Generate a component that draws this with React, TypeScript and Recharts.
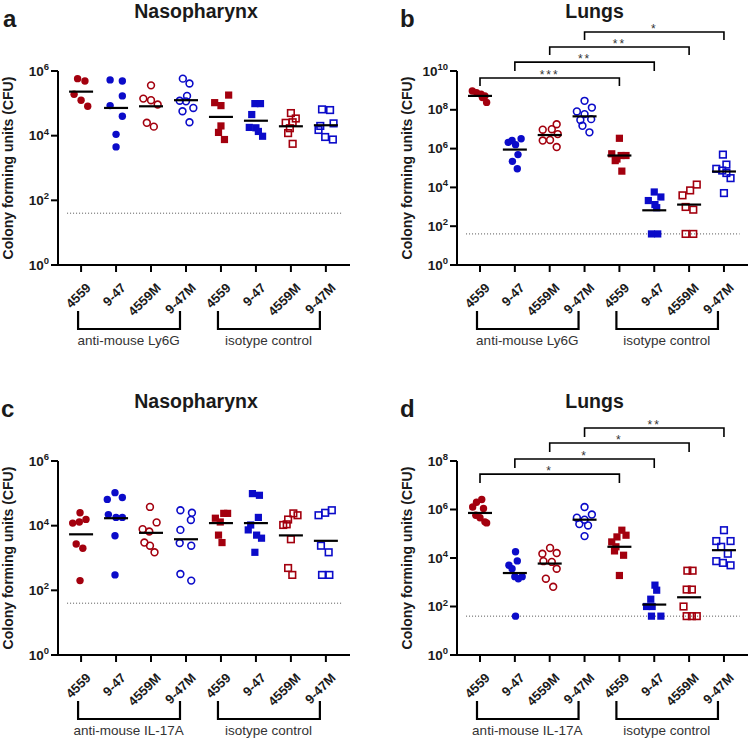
import React from 'react'
import { ScatterChart, Scatter, XAxis, YAxis, ReferenceLine, ReferenceArea } from 'recharts'

const strains = ['4559', '9-47', '4559M', '9-47M', '4559', '9-47', '4559M', '9-47M']
const LOD = 40

// a: nasopharynx, anti-Ly6G vs isotype (CFU per mouse)
const nasoLy6G = [
  [5.8e5, 4.9e5, 1.9e5, 1.25e5, 8.1e4],
  [5.3e5, 4.9e5, 1.7e5, 8.5e4, 4e4, 1.1e4, 4.5e3],
  [3.6e5, 1.4e5, 1.25e5, 9.2e4, 2.5e4, 1.9e4],
  [5.8e5, 4.1e5, 1.7e5, 1.2e5, 1.15e5, 7.2e4, 5.7e4, 2.6e4],
  [1.8e5, 1.05e5, 8.5e4, 2.0e4, 1.26e4, 7.6e3],
  [9.8e4, 9.8e4, 4.5e4, 1.8e4, 1.75e4, 1.35e4, 9.6e3],
  [5e4, 3.4e4, 2.6e4, 2.5e4, 1.7e4, 1.2e4, 5.6e3],
  [6.5e4, 6.2e4, 2.4e4, 2e4, 1.5e4, 9.1e3, 7.6e3],
]
const nasoLy6GMean = [2.3e5, 7.2e4, 8.1e4, 1.25e5, 3.8e4, 2.9e4, 1.95e4, 2.1e4]

// b: lungs, anti-Ly6G vs isotype
const lungsLy6G = [
  [9.3e8, 7.7e8, 6.4e8, 5.2e8, 4.3e8, 2.4e8],
  [3.2e6, 2.6e6, 2.1e6, 1.6e6, 4.9e5, 2.2e5, 9.1e4],
  [1.8e7, 1e7, 9.4e6, 5.6e6, 2.8e6, 2.6e6, 1.2e6],
  [2.9e8, 1.3e8, 8.2e7, 6e7, 3.3e7, 3e7, 1.5e7, 6.9e6],
  [3.4e6, 5.4e5, 4.4e5, 4.4e5, 2.9e5, 2.4e5, 6.9e4],
  [5.8e3, 3.2e3, 2.1e3, 1.3e3, 9e2, 40, 40],
  [1.4e4, 7e3, 3.9e3, 9.8e2, 7.1e2, 40, 40],
  [4.9e5, 1.5e5, 9.1e4, 7.4e4, 5.5e4, 3e4, 5.1e3],
]
const lungsLy6GMean = [5.2e8, 8.9e5, 5e6, 4.6e7, 4.4e5, 6.6e2, 1.3e3, 6.6e4]
const lungsLy6GStars = ['***', '**', '**', '*']

// c: nasopharynx, anti-IL-17A vs isotype
const nasoIL17 = [
  [2.5e4, 1.56e4, 1.3e4, 1.2e4, 2.7e3, 2e3, 2e2],
  [1.05e5, 7.4e4, 6.5e4, 2.2e4, 1.8e4, 1.8e4, 4.9e3, 3e2],
  [3.8e4, 1.26e4, 7.8e3, 6.6e3, 3e3, 2.4e3, 1.5e3],
  [3e4, 2.5e4, 1.5e4, 7.4e3, 2.9e3, 2.4e3, 3.2e2, 2e2],
  [2.4e4, 2.4e4, 1.7e4, 1.3e4, 5.1e3, 3e3],
  [9.8e4, 8.7e4, 1.8e4, 1.05e4, 7.4e3, 5.1e3, 4.1e3, 1.5e3],
  [2.4e4, 2.1e4, 1.55e4, 1.1e4, 1.05e4, 3.8e3, 4.9e2, 3e2],
  [3e4, 2.5e4, 2.1e4, 2.4e3, 1.5e3, 3e2, 3e2],
]
const nasoIL17Mean = [5.4e3, 1.7e4, 6e3, 3.8e3, 1.2e4, 1.2e4, 5e3, 3.4e3]

// d: lungs, anti-IL-17A vs isotype
const lungsIL17 = [
  [2.6e6, 2e6, 1.26e6, 1.1e6, 5.8e5, 4.6e5, 3.1e5, 2.8e5],
  [1.8e4, 7.6e3, 5e3, 3.6e3, 1.7e3, 1.7e3, 1.4e3, 40],
  [2.6e4, 1.6e4, 1.5e4, 7.4e3, 6.9e3, 3.6e3, 1.4e3, 6.5e2],
  [1.26e6, 6.2e5, 4.6e5, 3.8e5, 2.5e5, 2.2e5, 8e4],
  [1.4e5, 8.7e4, 7.4e4, 4.6e4, 2.9e4, 1.96e4, 1.3e4, 1.9e3],
  [7.6e2, 4.7e2, 2e2, 1e2, 1e2, 40, 40],
  [3e3, 3e3, 5e2, 5e2, 1e2, 40, 40, 40],
  [1.4e5, 5e4, 5e4, 2.9e4, 1.5e4, 7.4e3, 6.3e3, 5e3],
]
const lungsIL17Mean = [7.2e5, 2.4e3, 5.9e3, 3.8e5, 2.9e4, 1.2e2, 2.4e2, 2.1e4]
const lungsIL17Stars = ['*', '*', '*', '**']

// horizontal scatter of each dot inside its column (category units)
const nasoLy6GSpread = [
  [-0.1, 0.11, -0.2, 0, 0.19],
  [-0.17, 0.18, 0.18, -0.17, 0.18, 0, 0],
  [0, -0.22, 0, 0.19, -0.12, 0.08],
  [-0.09, 0.1, 0.03, -0.18, 0, 0.21, -0.1, 0.1],
  [0.22, -0.18, 0, 0, -0.07, 0.1],
  [-0.03, 0.13, -0.12, -0.19, 0, 0.07, 0.19],
  [0, 0.14, 0.05, -0.15, -0.03, -0.08, 0.05],
  [-0.11, 0.12, 0.22, -0.16, -0.21, -0.02, 0.2],
]
const lungsLy6GSpread = [
  [-0.22, -0.1, 0.03, 0.14, 0.07, 0.19],
  [0.18, -0.08, -0.19, 0.02, 0.09, -0.07, 0.07],
  [0.2, 0.06, -0.2, 0.23, 0.01, -0.2, 0.2],
  [0, 0.21, -0.22, 0, 0.19, -0.12, -0.06, 0.14],
  [0, -0.22, 0.05, 0.19, -0.07, -0.12, 0.07],
  [0, 0.19, -0.17, 0.02, 0.07, -0.08, 0.1],
  [0.22, 0.03, -0.19, -0.1, 0.12, -0.1, 0.12],
  [-0.03, 0.07, -0.22, -0.05, 0.07, 0.19, 0],
]
const nasoIL17Spread = [
  [-0.03, 0.14, -0.05, -0.24, -0.14, 0.05, -0.03],
  [-0.03, 0.18, -0.25, -0.22, 0, 0.18, -0.03, -0.03],
  [-0.03, 0.16, -0.24, -0.05, -0.19, -0.03, 0.1],
  [-0.16, 0.17, 0.14, -0.16, -0.18, 0.15, -0.16, 0.15],
  [0.08, 0.19, -0.16, -0.02, -0.07, 0.03],
  [-0.1, 0.1, 0.07, -0.15, -0.22, 0.02, 0.16, -0.03],
  [0.07, 0.19, -0.08, -0.12, -0.22, 0, -0.08, 0.04],
  [0.17, -0.02, -0.21, -0.14, 0.08, -0.11, 0.1],
]
const lungsIL17Spread = [
  [0.05, -0.1, -0.21, 0.1, -0.12, 0, 0.14, 0.19],
  [0.02, 0.07, -0.17, -0.08, 0, 0.21, 0.1, 0.02],
  [0.01, 0.2, -0.21, -0.18, 0.06, 0.2, -0.11, 0.1],
  [0, 0.21, -0.22, 0, -0.15, 0.1, 0],
  [0.07, 0.19, -0.07, -0.22, -0.1, -0.14, 0.12, 0],
  [0.02, 0.07, -0.1, -0.22, -0.06, -0.08, 0.19],
  [-0.05, 0.1, -0.07, 0.08, -0.16, -0.07, 0.08, 0.22],
  [0, -0.22, 0.19, -0.08, 0.11, -0.22, -0.03, 0.19],
]

const pairs = [[1, 5], [2, 6], [3, 7], [4, 8]]

const RED = '#A3000E'
const BLUE = '#0B0BC9'
const INK = '#1a1a1a'
const FONT = 'Arial, "Liberation Sans", sans-serif'
const looks = [
  { color: RED, square: false, filled: true },
  { color: BLUE, square: false, filled: true },
  { color: RED, square: false, filled: false },
  { color: BLUE, square: false, filled: false },
  { color: RED, square: true, filled: true },
  { color: BLUE, square: true, filled: true },
  { color: RED, square: true, filled: false },
  { color: BLUE, square: true, filled: false },
]

const PLOT_TOP = 71
const PLOT_BOTTOM = 265
const X_DOMAIN: [number, number] = [0.34, 8.69]
const axisStyle = { stroke: '#000', strokeWidth: 2 }

const marker = (color: string, square: boolean, filled: boolean) => (p: any) => {
  const { cx, cy } = p
  if (square) {
    return filled
      ? <rect x={cx - 3.6} y={cy - 3.6} width={7.2} height={7.2} fill={color} />
      : <rect x={cx - 3.3} y={cy - 3.3} width={6.6} height={6.6} fill="none" stroke={color} strokeWidth={1.6} />
  }
  return filled
    ? <circle cx={cx} cy={cy} r={3.7} fill={color} />
    : <circle cx={cx} cy={cy} r={3.4} fill="none" stroke={color} strokeWidth={1.6} />
}

const MeanBar = (p: any) => (
  <line x1={p.cx - 12} x2={p.cx + 12} y1={p.cy} y2={p.cy} stroke="#000" strokeWidth={2.2} />
)

const StrainTick = (p: any) => {
  const { x, y, payload } = p
  return (
    <text
      transform={`translate(${x + 4},${y + 8}) rotate(-45)`}
      textAnchor="end"
      dy="0.72em"
      fontSize={13}
      fontWeight="bold"
      fontFamily={FONT}
      fill={INK}
    >
      {strains[payload.value - 1]}
    </text>
  )
}

const PowTick = (p: any) => {
  const { x, y, payload } = p
  const e = Math.round(Math.log10(payload.value))
  return (
    <text x={x} y={y + 4.5} textAnchor="end" fontSize={13.5} fontWeight="bold" fontFamily={FONT} fill={INK}>
      10<tspan dy={-5.5} fontSize={9.5}>{e}</tspan>
    </text>
  )
}

const sigShape = (label: string) => (p: any) => {
  const { x, y, width, height } = p
  return (
    <g>
      <path d={`M${x},${y + height}V${y}H${x + width}V${y + height}`} fill="none" stroke="#000" strokeWidth={1.6} />
      <text x={x + width / 2} y={y + 1} textAnchor="middle" fontSize={12} letterSpacing={2} fontFamily={FONT} fill="#333">
        {label}
      </text>
    </g>
  )
}

const groupShape = (label: string) => (p: any) => {
  const { x, y, width, height } = p
  const b = y + height
  return (
    <g>
      <path d={`M${x - 3},${b + 46}V${b + 64}H${x + width - 6}V${b + 46}`} fill="none" stroke="#000" strokeWidth={2.2} />
      <text x={x + width / 2 - 5} y={b + 80} textAnchor="middle" fontSize={13.5} fontFamily={FONT} fill="#333">
        {label}
      </text>
    </g>
  )
}

interface PanelProps {
  left: number
  top: number
  w: number
  h: number
  axisW: number
  plotW: number
  letter: string
  letterX: number
  title: string
  groups: number[][]
  spread: number[][]
  means: number[]
  yTop: number
  antibody: string
  stars?: string[]
  levels?: number[][]
}

function Panel({ left, top, w, h, axisW, plotW, letter, letterX, title, groups, spread, means, yTop, antibody, stars, levels }: PanelProps) {
  const yTicks = Array.from({ length: yTop / 2 + 1 }, (_, i) => 10 ** (2 * i))
  const meanPts = means.map((m, i) => ({ x: i + 1, y: m }))
  return (
    <div style={{ position: 'absolute', left, top, width: w, height: h }}>
      <ScatterChart width={w} height={h} margin={{ top: PLOT_TOP, right: w - axisW - plotW, bottom: 0, left: 0 }}>
        <XAxis
          type="number"
          dataKey="x"
          domain={X_DOMAIN}
          ticks={[1, 2, 3, 4, 5, 6, 7, 8]}
          interval={0}
          height={h - PLOT_BOTTOM}
          tick={<StrainTick />}
          tickSize={7}
          axisLine={axisStyle}
          tickLine={axisStyle}
        />
        <YAxis
          type="number"
          dataKey="y"
          scale="log"
          domain={[1, 10 ** yTop]}
          ticks={yTicks}
          interval={0}
          width={axisW}
          tick={<PowTick />}
          tickSize={7}
          axisLine={axisStyle}
          tickLine={axisStyle}
        />
        <ReferenceLine
          segment={[{ x: 0.6, y: LOD }, { x: 8.45, y: LOD }]}
          stroke="#555"
          strokeWidth={1}
          strokeDasharray="1 2"
          ifOverflow="visible"
        />
        {groups.map((vals, i) => {
          const look = looks[i]
          const pts = vals.map((v, k) => ({ x: i + 1 + spread[i][k], y: v }))
          return (
            <Scatter
              key={i}
              data={pts}
              shape={marker(look.color, look.square, look.filled)}
              isAnimationActive={false}
            />
          )
        })}
        <Scatter data={meanPts} shape={MeanBar} isAnimationActive={false} />
        {stars && levels && stars.map((s, i) => (
          <ReferenceArea
            key={'s' + i}
            x1={pairs[i][0]}
            x2={pairs[i][1]}
            y1={10 ** levels[i][1]}
            y2={10 ** levels[i][0]}
            ifOverflow="visible"
            shape={sigShape(s)}
          />
        ))}
        <ReferenceArea x1={1} x2={4} ifOverflow="visible" shape={groupShape(antibody)} />
        <ReferenceArea x1={5} x2={8} ifOverflow="visible" shape={groupShape('isotype control')} />
      </ScatterChart>
      <svg width={w} height={h} style={{ position: 'absolute', left: 0, top: 0, pointerEvents: 'none' }}>
        <text x={letterX} y={27} fontSize={24} fontWeight="bold" fontFamily={FONT} fill={INK}>{letter}</text>
        <text x={axisW + plotW / 2 - 8} y={18} textAnchor="middle" fontSize={19.5} fontWeight="bold" fontFamily={FONT} fill={INK}>
          {title}
        </text>
        <text
          transform={`translate(${axisW - 50},${(PLOT_TOP + PLOT_BOTTOM) / 2}) rotate(-90)`}
          textAnchor="middle"
          dominantBaseline="central"
          fontSize={14}
          fontWeight="bold"
          fontFamily={FONT}
          fill={INK}
        >
          Colony forming units (CFU)
        </text>
      </svg>
    </div>
  )
}

// bracket heights above the plot, as log10 [top, foot]
const ly6gLevels = [[9.64, 9.23], [10.46, 10.0], [11.24, 10.82], [12.01, 11.6]]
const il17Levels = [[7.46, 7.09], [8.08, 7.71], [8.74, 8.37], [9.36, 8.99]]

export default function App() {
  return (
    <div style={{ position: 'absolute', left: 0, top: 0, width: 749, height: 738, background: '#fff', fontFamily: FONT }}>
      <Panel left={0} top={0} w={375} h={370} axisW={58} plotW={292} letter="a" letterX={3} title="Nasopharynx"
        groups={nasoLy6G} spread={nasoLy6GSpread} means={nasoLy6GMean} yTop={6} antibody="anti-mouse Ly6G" />
      <Panel left={375} top={0} w={374} h={370} axisW={82} plotW={291} letter="b" letterX={25} title="Lungs"
        groups={lungsLy6G} spread={lungsLy6GSpread} means={lungsLy6GMean} yTop={10} antibody="anti-mouse Ly6G"
        stars={lungsLy6GStars} levels={ly6gLevels} />
      <Panel left={0} top={390} w={375} h={348} axisW={58} plotW={292} letter="c" letterX={1} title="Nasopharynx"
        groups={nasoIL17} spread={nasoIL17Spread} means={nasoIL17Mean} yTop={6} antibody="anti-mouse IL-17A" />
      <Panel left={375} top={390} w={374} h={348} axisW={82} plotW={291} letter="d" letterX={25} title="Lungs"
        groups={lungsIL17} spread={lungsIL17Spread} means={lungsIL17Mean} yTop={8} antibody="anti-mouse IL-17A"
        stars={lungsIL17Stars} levels={il17Levels} />
    </div>
  )
}
